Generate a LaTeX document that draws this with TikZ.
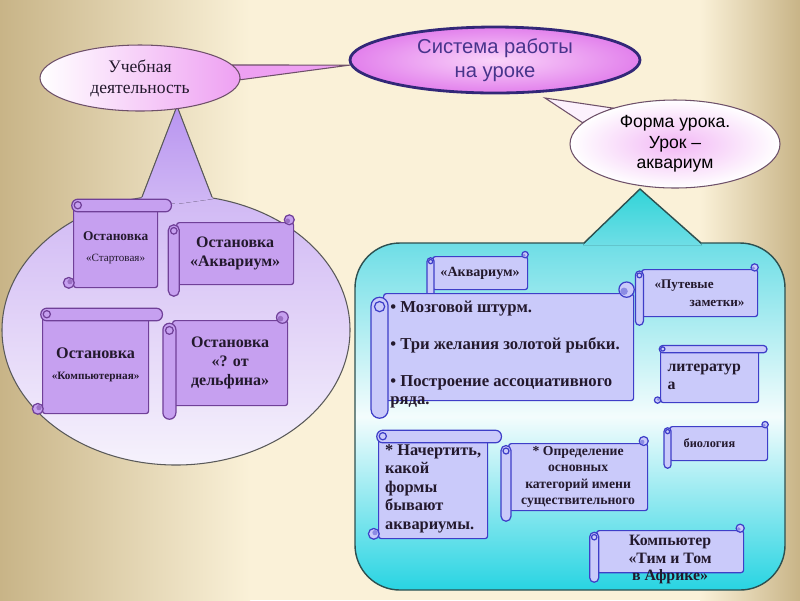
\documentclass[tikz,border=0pt]{standalone}
\usepackage{fontspec}
\setmainfont{Liberation Serif}
\newfontfamily\arialfont{Liberation Sans}
\usetikzlibrary{shapes.geometric,calc}

\definecolor{bgtan}{RGB}{200,180,135}
\definecolor{bgcream}{RGB}{250,241,216}
\definecolor{bubbleline}{RGB}{110,80,105}
\definecolor{bubblepink}{RGB}{238,160,242}
\definecolor{sysrim}{RGB}{226,128,236}
\definecolor{syscore}{RGB}{250,212,250}
\definecolor{sysline}{RGB}{50,40,120}
\definecolor{systext}{RGB}{72,52,140}
\definecolor{lilsoft}{RGB}{208,184,244}
\definecolor{lilpale}{RGB}{246,242,252}
\definecolor{liltri}{RGB}{184,148,240}
\definecolor{lilfill}{RGB}{198,160,240}
\definecolor{lilline}{RGB}{112,64,152}
\definecolor{blufill}{RGB}{202,202,250}
\definecolor{bluline}{RGB}{62,62,200}
\definecolor{panelcyan}{RGB}{110,222,230}
\definecolor{panelbottom}{RGB}{40,212,226}
\definecolor{panelline}{RGB}{45,80,80}
\definecolor{tealtri}{RGB}{50,212,216}
\definecolor{ink}{RGB}{35,25,45}

\pgfdeclarelayer{back}
\pgfdeclarelayer{tails}
\pgfsetlayers{back,tails,main}

\newcommand{\px}{0.02cm}

% roll on the left, curl at top right
\newcommand{\hroll}[3]{%
	\draw[#3roll, rounded corners=#2*0.01cm] ($(#1.north west)+(-0.7*#2,0.25*#2)$) rectangle ($(#1.south west)+(0.3*#2,#2)$);
	\draw[#3roll] ($(#1.north west)+(-0.2*#2,0.8*#2)$) circle[radius=0.3*#2];
	\draw[#3roll] ($(#1.north east)+(-0.45*#2,-0.2*#2)$) circle[radius=0.45*#2];
	\fill[#3curl] ($(#1.north east)+(-0.6*#2,-0.1*#2)$) circle[radius=0.22*#2];
}
% roll on top, curl at bottom left
\newcommand{\vroll}[3]{%
	\draw[#3roll, rounded corners=#2*0.01cm] ($(#1.north west)+(-0.1*#2,-0.65*#2)$) rectangle ($(#1.north east)+(1.1*#2,0.4*#2)$);
	\draw[#3roll] ($(#1.north west)+(0.4*#2,-0.15*#2)$) circle[radius=0.3*#2];
	\draw[#3roll] ($(#1.south west)+(-0.35*#2,-0.45*#2)$) circle[radius=0.45*#2];
	\fill[#3curl] ($(#1.south west)+(-0.25*#2,-0.55*#2)$) circle[radius=0.22*#2];
}

\begin{document}
\begin{tikzpicture}[x=0.02cm,y=-0.02cm]

	\tikzset{bubble/.style = {shape=ellipse,draw=bubbleline,line width=0.6pt,inner sep=0pt,align=center}}
	\tikzset{lilroll/.style = {draw=lilline,fill=lilfill,line width=0.7pt}}
	\tikzset{lilcurl/.style = {fill=lilline!50!lilfill}}
	\tikzset{lilbody/.style = {lilroll,rounded corners=1.5pt,anchor=north west,inner sep=1pt,align=center,text=ink}}
	\tikzset{bluroll/.style = {draw=bluline,fill=blufill,line width=0.7pt}}
	\tikzset{blucurl/.style = {fill=bluline!45!blufill}}
	\tikzset{blubody/.style = {bluroll,rounded corners=1.5pt,anchor=north west,inner sep=1pt,align=center,text=ink}}

	\useasboundingbox (0,0) rectangle (800,600);
	\begin{pgfonlayer}{back}
	\fill[bgcream] (0,0) rectangle (800,600);
	\shade[left color=bgtan, right color=bgcream] (0,0) rectangle (250,600);
	\shade[left color=bgcream, right color=bgtan] (700,0) rectangle (800,600);
	\end{pgfonlayer}

	% left part
	\node[shape=ellipse, draw=black!65, line width=0.6pt, top color=lilsoft, bottom color=lilpale, minimum width=348*\px, minimum height=270*\px] (stops) at (176,330) {};
	\coordinate (studytip) at (177,106);
	\fill[top color=liltri, bottom color=lilsoft] (studytip) -- (141,199) -- (177,204) -- (213,199) -- cycle;
	\draw[black!65, line width=0.6pt] (142,197) -- (studytip) -- (212,197);

	\node[bubble, left color=white, right color=bubblepink, minimum width=200*\px, minimum height=66*\px, font=\fontsize{10}{12}\selectfont, text=ink] (study) at (140,78) {Учебная\\деятельность};

	\node[bubble, draw=sysline, line width=1.6pt, inner color=syscore, outer color=sysrim, minimum width=290*\px, minimum height=66*\px, font=\arialfont\fontsize{11.5}{13.5}\selectfont, text=systext] (system) at (495,60) {Система работы\\на уроке};

	% right part
	\node[draw=panelline, line width=0.8pt, rounded corners=0.9cm, top color=panelcyan, bottom color=panelbottom, middle color=white!92!panelcyan, minimum width=430*\px, minimum height=347*\px] (panel) at (570,416.5) {};
	\coordinate (paneltip) at (640,189);
	\fill[top color=tealtri, bottom color=panelcyan] (paneltip) -- (583,245) -- (702,245) -- cycle;
	\draw[panelline, line width=0.8pt] (584,243) -- (paneltip) -- (701,243);

	\node[bubble, inner color=bubblepink!75!white, outer color=white, minimum width=210*\px, minimum height=88*\px, font=\arialfont\fontsize{10}{11.7}\selectfont, text=black] (form) at (675,144) {Форма урока.\\Урок –\\аквариум};

	\begin{pgfonlayer}{tails}
	\filldraw[fill=bubblepink, draw=bubbleline, line width=0.6pt] (study.8) -- (system.182) -- (study.-1) -- cycle;
	\coordinate (formtail) at (545,98);
	\filldraw[fill=white!85!bubblepink, draw=bubbleline, line width=0.6pt] (form.150) -- (formtail) -- (form.167) -- cycle;
	\end{pgfonlayer}

	% stops
	\node[lilbody, minimum width=84*\px, minimum height=80*\px] (startstop) at (73,207) {{\bfseries\fontsize{7.6}{9}\selectfont Остановка}\\{\fontsize{6.3}{8}\selectfont «Стартовая»}};
	\vroll{startstop}{12}{lil}
	\node[lilbody, minimum width=117*\px, minimum height=62*\px, font=\bfseries\fontsize{9.1}{10.8}\selectfont] (aquastop) at (176,222) {Остановка\\«Аквариум»};
	\hroll{aquastop}{11}{lil}
	\node[lilbody, minimum width=106*\px, minimum height=97*\px, font=\bfseries] (compstop) at (42,316) {{\fontsize{9.2}{11}\selectfont Остановка}\\{\fontsize{6.4}{8}\selectfont «Компьютерная»}};
	\vroll{compstop}{12}{lil}
	\node[lilbody, minimum width=115*\px, minimum height=85*\px, font=\bfseries\fontsize{9.1}{10.8}\selectfont] (dolphinstop) at (172,320) {Остановка\\«? от\\дельфина»};
	\hroll{dolphinstop}{13}{lil}

	% aquarium lesson
	\node[blubody, minimum width=95*\px, minimum height=33*\px, font=\bfseries\fontsize{8}{9.5}\selectfont] (aquatitle) at (432,256) {«Аквариум»};
	\hroll{aquatitle}{7}{blu}
	\node[blubody, minimum width=250*\px, minimum height=107*\px] (mindgame) at (383,293) {};
	\hroll{mindgame}{17}{blu}
	\node[anchor=north west, inner sep=0pt, align=left, text=ink, font=\bfseries\fontsize{9.5}{10}\selectfont] (mindtext) at ($(mindgame.north west)+(7,8)$) {• Мозговой штурм.\\[11pt]• Три желания золотой рыбки.\\[11pt]• Построение ассоциативного\\ряда.};
	\node[blubody, minimum width=116*\px, minimum height=47*\px, align=left, text width=90*\px, font=\bfseries\fontsize{7.5}{10}\selectfont] (notes) at (641,269) {«Путевые\\\hspace*{0.7cm}заметки»};
	\hroll{notes}{8}{blu}
	\node[blubody, minimum width=98*\px, minimum height=52*\px, align=left, text width=84*\px, font=\bfseries\fontsize{9}{10}\selectfont] (literature) at (660,350) {литератур\\а};
	\vroll{literature}{7}{blu}
	\node[blubody, minimum width=98*\px, minimum height=34*\px, align=left, text width=70*\px, font=\bfseries\fontsize{7}{8}\selectfont] (biology) at (669,426) {биология};
	\hroll{biology}{7}{blu}
	\node[blubody, minimum width=109*\px, minimum height=100*\px, align=left, font=\bfseries\fontsize{9.3}{10.6}\selectfont] (drawtask) at (378,438) {* Начертить,\\какой\\формы\\бывают\\аквариумы.};
	\vroll{drawtask}{12}{blu}
	\node[blubody, minimum width=139*\px, minimum height=67*\px, font=\bfseries\fontsize{7.8}{9.4}\selectfont] (nouns) at (508,443) {* Определение\\основных\\категорий имени\\существительного};
	\hroll{nouns}{10}{blu}
	\node[blubody, minimum width=147*\px, minimum height=42*\px] (computer) at (596,530) {};
	\hroll{computer}{9}{blu}
	\node[anchor=north, inner sep=0pt, align=center, text=ink, font=\bfseries\fontsize{9}{10}\selectfont] (comptext) at ($(computer.north)+(0,5)$) {Компьютер\\«Тим и Том\\в Африке»};

\end{tikzpicture}
\end{document}
